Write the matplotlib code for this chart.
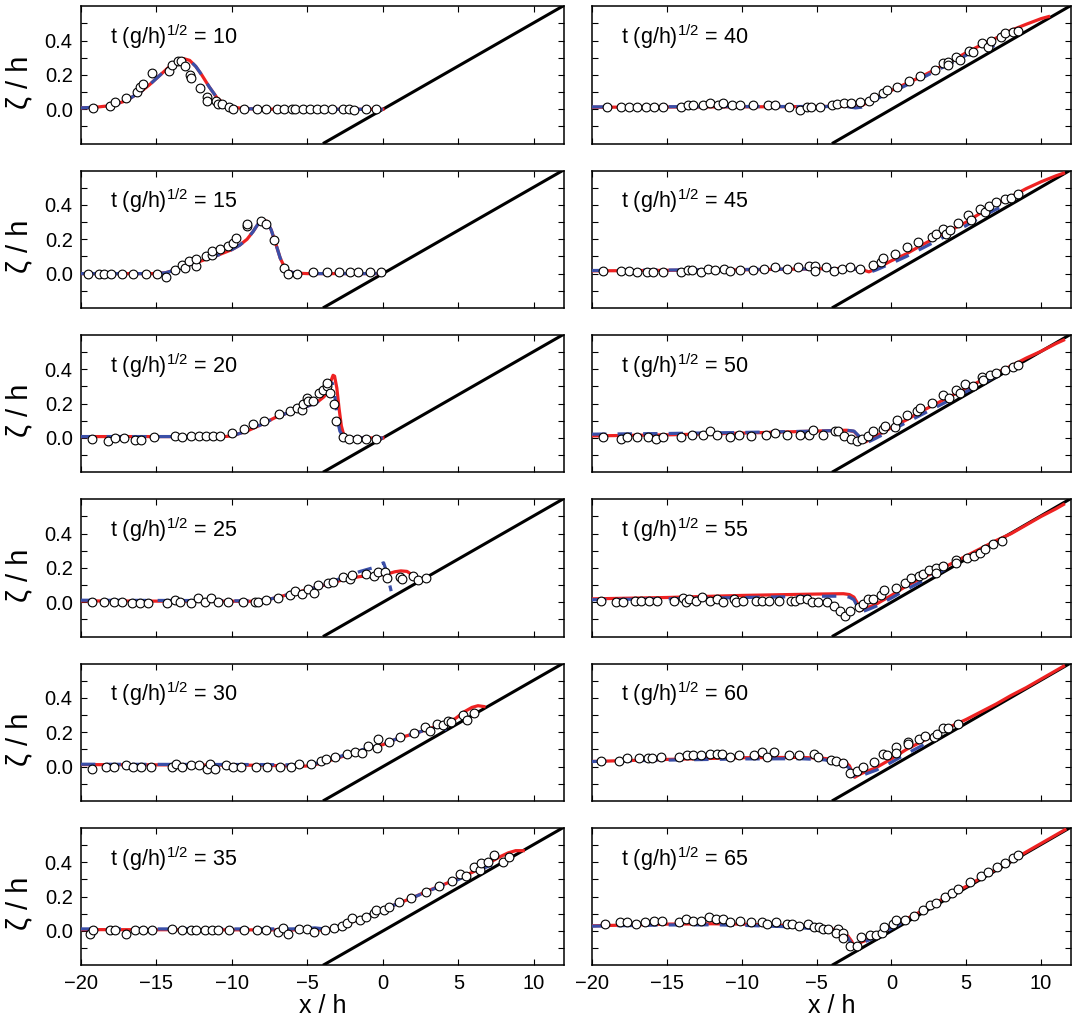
import numpy as np
import matplotlib.pyplot as plt
from matplotlib.ticker import FixedLocator, FuncFormatter

plt.rcParams['font.family'] = ['Liberation Sans', 'DejaVu Sans']
plt.rcParams['mathtext.fontset'] = 'custom'
plt.rcParams['mathtext.rm'] = 'Liberation Sans'
plt.rcParams['mathtext.default'] = 'regular'

# ---------------- data ----------------
times = [10, 15, 20, 25, 30, 35, 40, 45, 50, 55, 60, 65]

# beach: plane slope, end points
beach_x = [-3.97, 12.0]
beach_z = [-0.2, 0.605]

# model 1 (red, solid)
red_10 = [(-20, 0.008), (-19, 0.012), (-18, 0.022), (-17, 0.05), (-16, 0.105), (-15.5, 0.14), (-15, 0.18),
          (-14.5, 0.22), (-14, 0.26), (-13.5, 0.285), (-13.2, 0.295), (-12.8, 0.285), (-12.4, 0.25), (-12, 0.2),
          (-11.5, 0.13), (-11, 0.068), (-10.5, 0.03), (-10, 0.012), (-9, 0.003), (-7, 0.0), (0, 0.0)]
red_15 = [(-20, 0.0), (-15, 0.0), (-14.4, 0.005), (-14, 0.015), (-13.5, 0.032), (-13, 0.045), (-12, 0.075),
          (-11, 0.105), (-10, 0.14), (-9.5, 0.165), (-9, 0.2), (-8.6, 0.245), (-8.3, 0.285), (-8.0, 0.315),
          (-7.7, 0.305), (-7.4, 0.255), (-7.1, 0.175), (-6.8, 0.09), (-6.5, 0.035), (-6.2, 0.012), (-5.8, 0.003),
          (-5, 0.0), (0, 0.0)]
red_20 = [(-20, 0.008), (-12, 0.008), (-10.5, 0.008), (-10, 0.012), (-9, 0.04), (-8, 0.08), (-7, 0.125),
          (-6, 0.155), (-5, 0.185), (-4.4, 0.205), (-3.9, 0.24), (-3.6, 0.28), (-3.45, 0.33), (-3.3, 0.365),
          (-3.2, 0.36), (-3.05, 0.29), (-2.9, 0.17), (-2.75, 0.07), (-2.6, 0.02), (-2.4, 0.005), (-2, 0.0), (0, 0.0)]
red_25 = [(-20, 0.008), (-12, 0.006), (-8.5, 0.006), (-7.5, 0.018), (-6.5, 0.04), (-5.5, 0.062), (-4.5, 0.085),
          (-3.5, 0.11), (-2.5, 0.135), (-1.5, 0.15), (-0.5, 0.157), (0.3, 0.165), (0.8, 0.178), (1.2, 0.183),
          (1.6, 0.18), (1.9, 0.162), (2.1, 0.14)]
red_30 = [(-20, 0.012), (-8, 0.008), (-5.5, 0.002), (-5, 0.004), (-4.5, 0.012), (-4, 0.022), (-3, 0.05),
          (-2, 0.078), (-1, 0.104), (0, 0.128), (1, 0.165), (2, 0.19), (3, 0.218), (4, 0.25), (4.8, 0.28),
          (5.4, 0.32), (5.9, 0.345), (6.3, 0.355), (6.7, 0.35)]
red_35 = [(-20, 0.008), (-4.5, 0.006), (-3.9, 0.006), (-3, 0.018), (-2, 0.055), (-1, 0.09), (0, 0.125),
          (1, 0.16), (2, 0.195), (3, 0.235), (4, 0.27), (5, 0.305), (6, 0.345), (7, 0.395), (7.7, 0.43),
          (8.3, 0.455), (8.8, 0.468), (9.3, 0.468)]
red_40 = [(-20, 0.012), (-10, 0.014), (-5, 0.016), (-3, 0.018), (-2.4, 0.012), (-2.0, 0.02), (-1.5, 0.045),
          (-1, 0.068), (0, 0.11), (1, 0.15), (2, 0.19), (3, 0.235), (4, 0.28), (5, 0.33), (6, 0.375), (7, 0.415),
          (8, 0.46), (9, 0.495), (10, 0.528), (10.5, 0.54)]
red_45 = [(-20, 0.016), (-10, 0.022), (-5, 0.028), (-3, 0.03), (-2.0, 0.025), (-1.5, 0.01), (-1, 0.03),
          (0, 0.075), (1, 0.115), (2, 0.165), (3, 0.21), (4, 0.255), (5, 0.3), (6, 0.355), (7, 0.41), (8, 0.448),
          (9, 0.495), (10, 0.535), (11, 0.57), (11.5, 0.585)]
red_50 = [(-20, 0.012), (-15, 0.018), (-10, 0.028), (-5, 0.04), (-3, 0.045), (-2.5, 0.038), (-2.1, 0.0),
          (-1.7, -0.022), (-1, 0.012), (0, 0.06), (1, 0.105), (2, 0.155), (3, 0.2), (4, 0.245), (5, 0.29),
          (6, 0.335), (7, 0.378), (8, 0.42), (9, 0.465), (10, 0.505), (11, 0.55), (11.5, 0.57)]
red_55 = [(-20, 0.02), (-15, 0.028), (-10, 0.04), (-5, 0.048), (-3.2, 0.05), (-2.8, 0.045), (-2.5, 0.03),
          (-2.3, 0.0), (-2.15, -0.05), (-1.5, -0.028), (-1, -0.01), (0, 0.04), (1, 0.095), (2, 0.14), (3, 0.18),
          (4, 0.225), (5, 0.27), (6, 0.315), (7, 0.36), (8, 0.4), (9, 0.45), (10, 0.5), (11, 0.545), (11.5, 0.57)]
red_60 = [(-20, 0.03), (-15, 0.042), (-10, 0.052), (-6, 0.054), (-4.5, 0.048), (-3.5, 0.038), (-3.1, 0.028),
          (-2.8, 0.005), (-2.6, -0.035), (-2.45, -0.062), (-2.0, -0.04), (-1, -0.005), (0, 0.045), (1, 0.1),
          (2, 0.145), (3, 0.19), (4, 0.235), (5, 0.275), (6, 0.32), (7, 0.365), (8, 0.415), (9, 0.46),
          (10, 0.51), (11, 0.56), (11.5, 0.585)]
red_65 = [(-20, 0.03), (-15, 0.04), (-12, 0.042), (-10, 0.04), (-7, 0.032), (-5, 0.02), (-4, 0.012),
          (-3.3, -0.005), (-2.9, -0.03), (-2.65, -0.06), (-2.5, -0.088), (-2, -0.065), (-1, -0.03), (0, 0.025),
          (1, 0.07), (2, 0.115), (3, 0.165), (4, 0.215), (5, 0.26), (6, 0.31), (7, 0.36), (8, 0.41), (9, 0.46),
          (10, 0.51), (11, 0.56), (11.6, 0.59)]

# model 2 (blue, dashed)
blue_10 = red_10
blue_15 = red_15
blue_20 = [(-20, 0.008), (-12, 0.008), (-10.5, 0.008), (-10, 0.012), (-9, 0.04), (-8, 0.08), (-7, 0.125),
           (-6, 0.155), (-5, 0.185), (-4.4, 0.205), (-3.9, 0.24), (-3.65, 0.28), (-3.5, 0.31), (-3.35, 0.32),
           (-3.2, 0.26), (-3.1, 0.18), (-3.0, 0.1), (-2.85, 0.04), (-2.65, 0.01), (-2.4, 0.003), (-2, 0.0), (0, 0.0)]
blue_25 = [(-20, 0.012), (-12, 0.01), (-8.5, 0.008), (-7.5, 0.018), (-6.5, 0.04), (-5.5, 0.062), (-4.5, 0.085),
           (-3.5, 0.115), (-2.5, 0.15), (-1.5, 0.18), (-0.5, 0.205), (-0.1, 0.225), (0.05, 0.23), (0.2, 0.19),
           (0.4, 0.12), (0.55, 0.065)]
blue_30 = [(-20, 0.014), (-8, 0.012), (-5.5, 0.01), (-5, 0.012), (-4.5, 0.018), (-4, 0.028), (-3, 0.055),
           (-2, 0.082), (-1, 0.108), (0, 0.13), (1, 0.165), (2, 0.19), (3, 0.218), (3.6, 0.235), (4.0, 0.225),
           (4.3, 0.212)]
blue_35 = [(-20, 0.012), (-6, 0.012), (-5, 0.015), (-4.5, 0.018), (-3.9, 0.012), (-3, 0.02), (-2, 0.055),
           (-1, 0.09), (0, 0.125), (1, 0.16), (2, 0.195), (3, 0.232), (4, 0.268), (5, 0.3), (6, 0.34),
           (7, 0.378), (7.6, 0.39)]
blue_40 = [(-20, 0.014), (-10, 0.016), (-5, 0.016), (-3, 0.016), (-2.4, 0.008), (-2.0, 0.012), (-1.5, 0.035),
           (-1, 0.06), (0, 0.1), (1, 0.14), (2, 0.18), (3, 0.225), (4, 0.27), (5, 0.315), (6, 0.355), (6.9, 0.37)]
blue_45 = [(-20, 0.018), (-10, 0.024), (-5, 0.028), (-3, 0.03), (-2.0, 0.024), (-1.5, 0.006), (-1, 0.022),
           (0, 0.06), (1, 0.1), (2, 0.145), (3, 0.19), (4, 0.235), (5, 0.28), (6, 0.33), (7, 0.375), (7.3, 0.385)]
blue_50 = [(-20, 0.022), (-15, 0.026), (-10, 0.032), (-5, 0.04), (-3, 0.045), (-2.5, 0.04), (-2.1, 0.005),
           (-1.6, -0.026), (-1, 0.0), (0, 0.045), (1, 0.09), (2, 0.135), (3, 0.18), (4, 0.225), (5, 0.27),
           (6, 0.315), (7, 0.36), (7.8, 0.39)]
blue_55 = [(-20, 0.015), (-15, 0.02), (-10, 0.028), (-5, 0.035), (-3.2, 0.036), (-2.8, 0.03), (-2.5, 0.015),
           (-2.3, -0.02), (-2.1, -0.06), (-1.5, -0.04), (-1, -0.022), (0, 0.025), (1, 0.075), (2, 0.12),
           (3, 0.165), (4, 0.21), (4.6, 0.235)]
blue_60 = [(-20, 0.03), (-15, 0.038), (-10, 0.045), (-6, 0.046), (-4.5, 0.04), (-3.5, 0.025), (-3.1, 0.012),
           (-2.8, -0.01), (-2.6, -0.045), (-2.4, -0.065), (-2.0, -0.052), (-1, -0.02), (0, 0.025), (1, 0.075),
           (2, 0.12), (3, 0.165), (3.3, 0.175)]
blue_65 = [(-20, 0.028), (-15, 0.035), (-12, 0.036), (-10, 0.033), (-7, 0.025), (-5, 0.012), (-4, 0.002),
           (-3.3, -0.015), (-2.9, -0.04), (-2.7, -0.07), (-2.5, -0.09), (-2, -0.07), (-1, -0.035), (0, 0.015),
           (1, 0.06), (1.5, 0.08)]

# measurements (open circles)
obs_10 = [(-19.18, 0.01), (-18.08, 0.018), (-17.74, 0.04), (-17.02, 0.065), (-16.27, 0.1), (-16.06, 0.13),
          (-15.89, 0.15), (-15.29, 0.21), (-14.18, 0.225), (-13.99, 0.26), (-13.6, 0.28), (-13.37, 0.28),
          (-13.13, 0.25), (-12.79, 0.2), (-12.74, 0.185), (-12.12, 0.125), (-11.66, 0.072), (-11.63, 0.05),
          (-11.06, 0.05), (-10.91, 0.03), (-10.63, 0.03), (-10.19, 0.014), (-9.9, 0.004), (-9.18, 0.004),
          (-8.37, 0.004), (-7.75, 0.004), (-7.04, 0.004), (-6.56, 0.004), (-6.03, 0.004), (-5.84, 0.004),
          (-5.31, 0.004), (-4.83, 0.004), (-4.35, 0.004), (-3.87, 0.004), (-3.39, 0.004), (-2.67, 0.004),
          (-2.24, 0.004), (-1.9, -0.005), (-1.15, 0.004), (-0.43, 0.004)]
obs_15 = [(-19.52, 0.0), (-18.8, 0.0), (-18.46, 0.0), (-17.98, 0.0), (-17.26, 0.0), (-16.54, 0.0), (-15.67, 0.0),
          (-14.95, 0.0), (-14.35, -0.02), (-13.8, 0.02), (-13.34, 0.05), (-13.08, 0.033), (-12.84, 0.074),
          (-12.38, 0.047), (-12.36, 0.086), (-11.75, 0.1), (-11.3, 0.11), (-11.3, 0.13), (-10.79, 0.145),
          (-10.29, 0.16), (-9.9, 0.18), (-9.71, 0.21), (-8.99, 0.277), (-8.99, 0.29), (-8.08, 0.305),
          (-7.72, 0.287), (-7.24, 0.193), (-6.54, 0.033), (-6.3, 0.0), (-5.67, 0.0), (-4.66, 0.008),
          (-3.7, 0.008), (-2.88, 0.008), (-2.16, 0.008), (-1.63, 0.008), (-0.82, 0.008), (-0.1, 0.008)]
obs_20 = [(-19.28, -0.006), (-18.22, -0.02), (-17.74, 0.0), (-17.12, 0.0), (-16.39, -0.01), (-16.0, -0.01),
          (-15.14, 0.008), (-13.8, 0.014), (-13.34, 0.008), (-12.74, 0.014), (-12.21, 0.014), (-11.73, 0.014),
          (-11.25, 0.014), (-10.77, 0.014), (-10.02, 0.03), (-9.23, 0.05), (-8.58, 0.08), (-7.88, 0.1),
          (-6.9, 0.14), (-6.18, 0.155), (-5.67, 0.175), (-5.38, 0.16), (-5.29, 0.195), (-5.05, 0.235),
          (-4.95, 0.215), (-4.62, 0.215), (-4.23, 0.26), (-3.97, 0.28), (-3.73, 0.3), (-3.7, 0.32),
          (-3.51, 0.26), (-3.22, 0.195), (-3.12, 0.1), (-2.64, 0.004), (-2.26, -0.008), (-1.73, -0.008),
          (-1.1, -0.008), (-0.43, -0.008)]
obs_25 = [(-19.28, 0.004), (-18.46, 0.004), (-17.84, 0.004), (-17.26, 0.004), (-16.63, -0.004), (-16.1, -0.004),
          (-15.53, -0.004), (-14.33, -0.004), (-13.8, 0.012), (-13.46, 0.0), (-12.74, -0.004), (-12.26, 0.024),
          (-11.78, 0.004), (-11.4, 0.024), (-10.91, 0.004), (-10.29, 0.004), (-9.28, 0.004), (-8.46, 0.004),
          (-8.27, 0.004), (-7.74, 0.016), (-6.92, 0.024), (-6.15, 0.044), (-5.82, 0.067), (-5.38, 0.048),
          (-4.98, 0.077), (-4.57, 0.057), (-4.33, 0.1), (-3.61, 0.11), (-3.32, 0.12), (-2.64, 0.147),
          (-2.16, 0.135), (-2.02, 0.16), (-1.15, 0.164), (-0.58, 0.154), (-0.29, 0.174), (0.14, 0.178),
          (0.29, 0.143), (1.11, 0.149), (1.25, 0.133), (1.97, 0.156), (2.31, 0.129), (2.84, 0.143)]
obs_30 = [(-19.28, -0.012), (-18.32, 0.0), (-17.84, 0.0), (-17.02, 0.008), (-16.54, 0.0), (-16.01, 0.0),
          (-15.38, 0.0), (-13.99, 0.0), (-13.7, 0.016), (-13.32, 0.0), (-12.69, 0.008), (-12.21, 0.008),
          (-11.68, -0.012), (-11.44, 0.016), (-11.1, -0.012), (-10.38, 0.008), (-9.95, 0.0), (-9.38, 0.0),
          (-8.41, 0.0), (-7.69, 0.0), (-6.83, 0.0), (-6.11, 0.0), (-5.53, 0.016), (-4.76, 0.016),
          (-4.13, 0.035), (-3.8, 0.043), (-3.17, 0.059), (-2.36, 0.074), (-1.83, 0.086), (-1.35, 0.082),
          (-1.01, 0.12), (-0.38, 0.11), (-0.29, 0.16), (0.43, 0.143), (1.15, 0.172), (2.07, 0.197),
          (2.79, 0.23), (3.13, 0.21), (3.61, 0.25), (4.0, 0.24), (4.33, 0.265), (4.52, 0.258), (5.34, 0.3),
          (5.58, 0.27), (6.06, 0.31)]
obs_35 = [(-19.42, -0.016), (-19.18, 0.004), (-18.08, 0.004), (-17.74, 0.004), (-17.02, -0.016),
          (-16.39, 0.004), (-15.91, 0.004), (-15.29, 0.004), (-13.94, 0.012), (-13.32, 0.004), (-12.74, 0.004),
          (-12.36, 0.004), (-11.78, 0.004), (-11.35, 0.004), (-10.91, 0.004), (-10.19, 0.004), (-9.23, 0.004),
          (-8.37, 0.004), (-7.74, 0.004), (-6.92, -0.008), (-6.63, 0.016), (-6.3, -0.016), (-5.53, 0.012),
          (-5.05, 0.012), (-4.57, -0.008), (-3.85, 0.008), (-3.22, 0.016), (-2.74, 0.028), (-2.4, 0.047),
          (-2.02, 0.075), (-1.54, 0.063), (-1.15, 0.079), (-0.58, 0.106), (-0.48, 0.12), (0.1, 0.12),
          (0.43, 0.14), (1.06, 0.17), (1.88, 0.19), (2.88, 0.228), (3.75, 0.26), (4.57, 0.29), (5.14, 0.33),
          (5.48, 0.32), (6.01, 0.374), (6.44, 0.358), (6.49, 0.394), (6.97, 0.4), (7.36, 0.44), (7.98, 0.4),
          (8.37, 0.43)]
obs_40 = [(-19.01, 0.016), (-18.07, 0.016), (-17.56, 0.016), (-16.98, 0.016), (-16.4, 0.016), (-15.86, 0.016),
          (-15.28, 0.016), (-14.07, 0.016), (-13.62, 0.023), (-13.22, 0.023), (-12.59, 0.023), (-12.14, 0.035),
          (-11.56, 0.023), (-11.25, 0.039), (-10.66, 0.023), (-10.08, 0.023), (-9.23, 0.023), (-8.25, 0.023),
          (-7.75, 0.023), (-6.81, 0.016), (-6.1, -0.004), (-5.65, 0.016), (-5.38, 0.016), (-4.76, 0.016),
          (-3.99, 0.023), (-3.64, 0.031), (-3.19, 0.035), (-2.7, 0.035), (-2.07, 0.043), (-1.49, 0.05),
          (-1.13, 0.074), (-0.55, 0.093), (-0.28, 0.113), (0.35, 0.128), (1.2, 0.163), (1.92, 0.194),
          (2.9, 0.229), (3.48, 0.268), (3.8, 0.276), (3.75, 0.256), (4.33, 0.307), (4.6, 0.287), (5.18, 0.34),
          (5.45, 0.334), (6.08, 0.384), (6.44, 0.365), (6.66, 0.4), (7.33, 0.419), (7.6, 0.443), (8.1, 0.452),
          (8.45, 0.458)]
obs_45 = [(-19.26, 0.016), (-18.07, 0.016), (-17.56, 0.016), (-16.98, 0.008), (-16.31, 0.008), (-15.9, 0.008),
          (-15.28, 0.008), (-14.07, 0.008), (-13.62, 0.019), (-13.35, 0.019), (-12.72, 0.008), (-12.23, 0.027),
          (-11.76, 0.019), (-11.16, 0.027), (-10.8, 0.016), (-10.08, 0.019), (-9.23, 0.019), (-8.52, 0.027),
          (-7.75, 0.037), (-6.95, 0.027), (-6.21, 0.037), (-5.47, 0.045), (-5.11, 0.045), (-5.11, 0.016),
          (-4.4, 0.037), (-3.86, 0.016), (-3.28, 0.027), (-2.78, 0.037), (-2.07, 0.027), (-1.24, 0.052),
          (-0.68, 0.07), (-0.53, 0.093), (0.22, 0.113), (1.07, 0.153), (1.78, 0.183), (2.72, 0.212),
          (2.99, 0.229), (3.48, 0.258), (3.62, 0.231), (3.94, 0.254), (4.42, 0.293), (5.14, 0.342),
          (5.32, 0.313), (5.9, 0.377), (6.26, 0.357), (6.53, 0.396), (6.98, 0.417), (7.6, 0.435), (7.96, 0.443),
          (8.45, 0.462)]
obs_50 = [(-19.26, 0.004), (-18.07, -0.006), (-17.69, 0.004), (-16.98, 0.004), (-16.26, 0.004), (-15.75, -0.006),
          (-15.28, 0.004), (-14.07, 0.004), (-13.35, 0.02), (-12.59, 0.02), (-12.14, 0.039), (-11.65, 0.02),
          (-10.8, 0.004), (-10.17, 0.02), (-9.37, 0.012), (-8.38, 0.02), (-7.75, 0.027), (-6.95, 0.02),
          (-6.1, 0.02), (-5.47, 0.02), (-5.25, 0.047), (-4.58, 0.02), (-3.77, 0.039), (-3.55, 0.039),
          (-3.19, 0.012), (-2.7, -0.004), (-2.29, -0.016), (-1.93, -0.004), (-1.53, 0.012), (-1.22, 0.039),
          (-0.59, 0.05), (-0.41, 0.07), (0.22, 0.062), (0.35, 0.105), (1.02, 0.132), (1.74, 0.159),
          (1.92, 0.175), (2.72, 0.202), (3.48, 0.252), (3.84, 0.233), (4.29, 0.28), (4.6, 0.26), (4.92, 0.315),
          (5.45, 0.303), (6.04, 0.353), (6.12, 0.338), (6.62, 0.365), (6.98, 0.377), (7.6, 0.396), (8.1, 0.416),
          (8.45, 0.423)]
obs_55 = [(-19.4, 0.01), (-18.41, 0.0), (-17.92, 0.0), (-17.11, 0.01), (-16.71, 0.01), (-16.22, 0.01),
          (-15.63, 0.01), (-14.52, 0.01), (-13.93, 0.025), (-13.71, 0.0), (-13.53, 0.019), (-13.08, 0.01),
          (-12.68, 0.033), (-12.1, 0.01), (-11.65, 0.019), (-11.25, 0.0), (-10.53, 0.019), (-10.4, 0.002),
          (-9.9, 0.01), (-9.05, 0.01), (-8.65, 0.01), (-8.2, 0.01), (-7.49, 0.01), (-6.68, 0.01), (-6.41, 0.01),
          (-6.1, 0.019), (-5.61, 0.019), (-5.29, 0.0), (-4.89, 0.0), (-4.31, 0.0), (-3.81, -0.019),
          (-3.46, -0.052), (-3.1, -0.077), (-2.74, -0.052), (-2.14, -0.025), (-1.89, -0.01), (-1.53, 0.019),
          (-1.26, 0.019), (-0.68, 0.044), (-0.46, 0.071), (0.3, 0.085), (0.89, 0.11), (1.29, 0.142),
          (1.87, 0.152), (2.14, 0.165), (2.5, 0.187), (2.95, 0.202), (2.99, 0.171), (3.48, 0.213),
          (4.33, 0.244), (4.33, 0.229), (5.05, 0.26), (5.54, 0.267), (5.9, 0.287), (6.26, 0.312), (6.8, 0.337),
          (7.38, 0.36)]
obs_60 = [(-19.4, 0.033), (-18.19, 0.033), (-17.69, 0.048), (-16.84, 0.048), (-16.26, 0.048), (-15.99, 0.048),
          (-15.37, 0.058), (-14.16, 0.058), (-13.66, 0.065), (-13.22, 0.065), (-12.72, 0.065), (-12.1, 0.073),
          (-11.65, 0.073), (-11.29, 0.073), (-10.75, 0.058), (-10.17, 0.065), (-9.19, 0.065), (-8.61, 0.087),
          (-8.34, 0.058), (-7.84, 0.087), (-6.86, 0.065), (-6.14, 0.065), (-5.16, 0.073), (-4.93, 0.058),
          (-4.04, 0.038), (-3.68, 0.035), (-3.23, 0.019), (-2.74, -0.038), (-2.29, -0.027), (-1.89, -0.004),
          (-1.17, 0.027), (-0.59, 0.073), (-0.32, 0.065), (0.3, 0.115), (0.3, 0.081), (1.11, 0.144),
          (1.11, 0.129), (1.87, 0.163), (2.23, 0.177), (2.86, 0.173), (3.08, 0.192), (3.44, 0.225),
          (3.8, 0.225), (4.42, 0.25)]
obs_65 = [(-19.15, 0.039), (-18.1, 0.05), (-17.69, 0.05), (-17.07, 0.039), (-16.46, 0.05), (-15.86, 0.06),
          (-15.34, 0.06), (-14.16, 0.05), (-13.71, 0.07), (-13.22, 0.06), (-12.72, 0.06), (-12.19, 0.08),
          (-11.74, 0.07), (-11.25, 0.07), (-10.75, 0.05), (-10.13, 0.06), (-9.41, 0.05), (-8.65, 0.054),
          (-8.34, 0.039), (-7.71, 0.05), (-6.99, 0.039), (-6.64, 0.039), (-6.14, 0.029), (-5.56, 0.039),
          (-5.16, 0.021), (-4.84, 0.021), (-4.58, 0.01), (-4.26, 0.01), (-3.59, 0.014), (-3.68, -0.01),
          (-3.23, -0.01), (-3.23, -0.04), (-2.74, -0.09), (-2.29, -0.087), (-2.02, -0.037), (-1.4, -0.021),
          (-1.0, -0.021), (-0.64, -0.01), (-0.46, 0.021), (0.13, 0.039), (0.3, 0.064), (0.89, 0.064),
          (1.51, 0.089), (2.14, 0.122), (2.59, 0.151), (2.95, 0.161), (3.57, 0.2), (4.06, 0.223), (4.47, 0.245),
          (5.23, 0.283), (5.99, 0.32), (6.44, 0.342), (7.06, 0.371), (7.6, 0.394), (8.1, 0.423), (8.45, 0.445)]

red_all = [red_10, red_15, red_20, red_25, red_30, red_35, red_40, red_45, red_50, red_55, red_60, red_65]
blue_all = [blue_10, blue_15, blue_20, blue_25, blue_30, blue_35,
            blue_40, blue_45, blue_50, blue_55, blue_60, blue_65]
obs_all = [obs_10, obs_15, obs_20, obs_25, obs_30, obs_35, obs_40, obs_45, obs_50, obs_55, obs_60, obs_65]

x_ticks = [-20, -15, -10, -5, 0, 5, 10]
y_ticks = [-0.1, 0.0, 0.1, 0.2, 0.3, 0.4, 0.5]
y_labelled = [0.0, 0.2, 0.4]

# ---------------- figure ----------------
W, H = 1074, 1023
fig = plt.figure(figsize=(W / 100, H / 100), dpi=100)

col_left = [81 / W, 592 / W]
col_width = [483 / W, 479 / W]
ax_h = 137.3 / H


def yfmt(v, pos):
    for t in y_labelled:
        if abs(v - t) < 1e-6:
            return '%.1f' % t
    return ''


for i, t in enumerate(times):
    col = i // 6
    row = i % 6
    bottom = (H - (143.6 + 164.34 * row)) / H
    ax = fig.add_axes([col_left[col], bottom, col_width[col], ax_h])

    ax.plot(beach_x, beach_z, color='black', lw=2.2, zorder=2, solid_capstyle='butt')
    r = np.array(red_all[i])
    b = np.array(blue_all[i])
    o = np.array(obs_all[i])
    ax.plot(r[:, 0], r[:, 1], color='#ee2222', lw=2.3, zorder=3)
    ax.plot(b[:, 0], b[:, 1], color='#3a4fa8', lw=2.3, ls=(0, (4.5, 3.5)), zorder=4)
    ax.plot(o[:, 0], o[:, 1], 'o', ms=6.3, mfc='white', mec='black', mew=0.8, zorder=5)

    ax.set_xlim(-20, 12)
    ax.set_ylim(-0.2, 0.6)
    ax.xaxis.set_major_locator(FixedLocator(x_ticks))
    ax.yaxis.set_major_locator(FixedLocator(y_ticks))
    ax.yaxis.set_major_formatter(FuncFormatter(yfmt))
    ax.tick_params(direction='in', top=True, right=True, length=4, width=0.8,
                   labelsize=14.5, pad=6)
    for s in ax.spines.values():
        s.set_linewidth(1.1)

    if row < 5:
        ax.tick_params(labelbottom=False)
    else:
        ax.set_xlabel('x / h', fontsize=18, labelpad=1)
    if col == 1:
        ax.tick_params(labelleft=False)
    else:
        ax.set_ylabel('ζ / h', fontsize=21)
        ax.yaxis.set_label_coords(-0.098, 0.45)

    ax.text(0.06, 0.725, 't (g/h)$^{1/2}$ = %d' % t, transform=ax.transAxes,
            fontsize=15.5, va='baseline', ha='left')

fig.savefig('out.png', dpi=100)
